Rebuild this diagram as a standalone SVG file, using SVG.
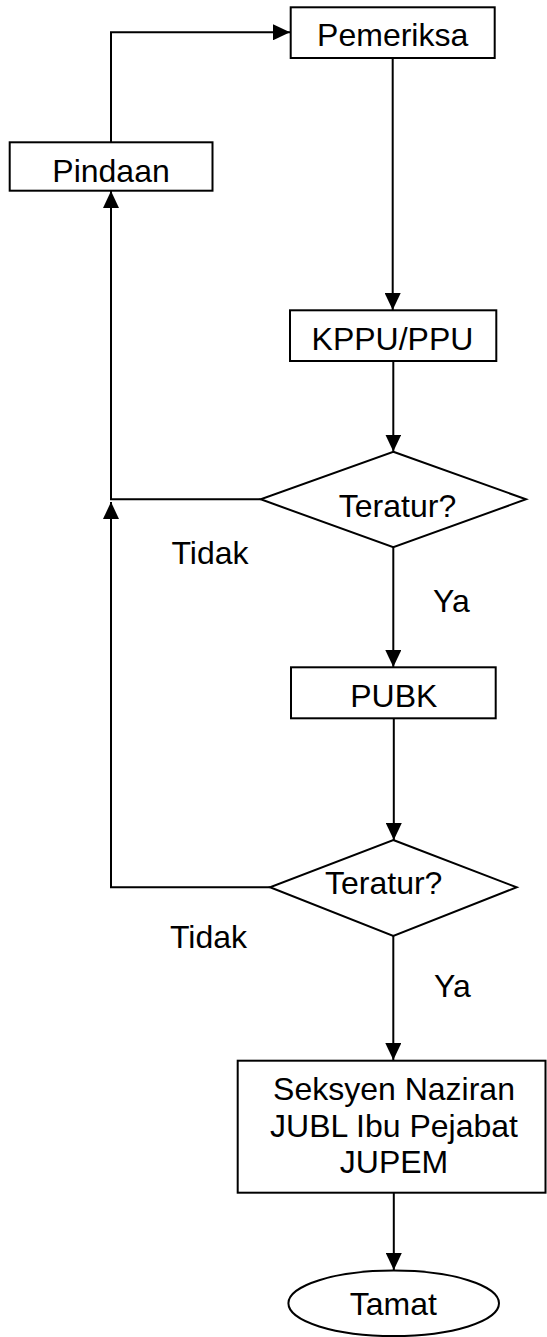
<svg xmlns="http://www.w3.org/2000/svg" width="547" height="1337" viewBox="0 0 547 1337">
<style>
.s{fill:#fff;stroke:#000;stroke-width:2}
.c{fill:none;stroke:#000;stroke-width:2}
.t{font-family:"Liberation Sans",Arial,sans-serif;font-size:32px;fill:#000}
.m{text-anchor:middle}
</style>
<defs>
<marker id="ah" markerUnits="userSpaceOnUse" markerWidth="17" markerHeight="16" viewBox="0 0 17 16" refX="17" refY="8" orient="auto">
<path d="M0,0 L17,8 L0,16 z" fill="#000"/>
</marker>
</defs>
<rect width="547" height="1337" fill="#fff"/>
<g id="connectors">
<path class="c" d="M111,142 V32.3 H290" marker-end="url(#ah)"/>
<path class="c" d="M392.7,58 V310" marker-end="url(#ah)"/>
<path class="c" d="M393.3,361 V451.5" marker-end="url(#ah)"/>
<path class="c" d="M260.7,499.3 H111 V191" marker-end="url(#ah)"/>
<path class="c" d="M393.3,547.3 V667" marker-end="url(#ah)"/>
<path class="c" d="M393.8,718.3 V840" marker-end="url(#ah)"/>
<path class="c" d="M270,887.3 H111 V502" marker-end="url(#ah)"/>
<path class="c" d="M393.3,936 V1060" marker-end="url(#ah)"/>
<path class="c" d="M393.8,1192.7 V1270" marker-end="url(#ah)"/>
</g>
<g id="pemeriksa">
<rect class="s" x="290.7" y="7.3" width="204" height="50.7"/>
<text class="t m" x="392.7" y="45.7">Pemeriksa</text>
</g>
<g id="pindaan">
<rect class="s" x="9.7" y="142.3" width="202.8" height="48.4"/>
<text class="t m" x="111" y="181.7">Pindaan</text>
</g>
<g id="kppu">
<rect class="s" x="290" y="310.3" width="206.3" height="50.7"/>
<text class="t m" x="392.5" y="350">KPPU/PPU</text>
</g>
<g id="teratur1">
<polygon class="s" points="393.3,451.7 526,499.3 393.3,547.3 260.7,499.3"/>
<text class="t m" x="397.5" y="517.3">Teratur?</text>
</g>
<g id="pubk">
<rect class="s" x="291" y="667.3" width="204.7" height="51"/>
<text class="t m" x="393.8" y="706.7">PUBK</text>
</g>
<g id="teratur2">
<polygon class="s" points="393.3,840 516.7,887.3 393.3,936 270,887.3"/>
<text class="t m" x="383.7" y="894.3">Teratur?</text>
</g>
<g id="seksyen">
<rect class="s" x="237.7" y="1060.7" width="307.8" height="132"/>
<text class="t m" x="394" y="1100">Seksyen Naziran</text>
<text class="t m" x="394" y="1136.7">JUBL Ibu Pejabat</text>
<text class="t m" x="394" y="1173.3">JUPEM</text>
</g>
<g id="tamat">
<ellipse class="s" cx="393.7" cy="1303.3" rx="105.3" ry="32.7"/>
<text class="t m" x="393.3" y="1315">Tamat</text>
</g>
<g id="labels">
<text class="t" x="171.5" y="564">Tidak</text>
<text class="t" x="433" y="612.3">Ya</text>
<text class="t" x="170" y="948.3">Tidak</text>
<text class="t" x="434" y="996.7">Ya</text>
</g>
</svg>
